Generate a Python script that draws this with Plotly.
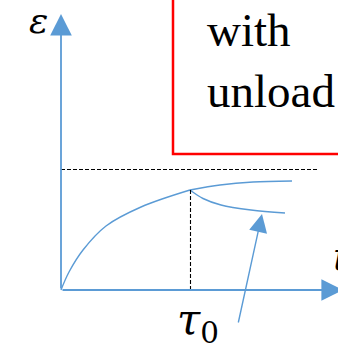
import plotly.graph_objects as go

# ---- data (pixel-like units, origin at axes origin) ----
load_t = [0, 8, 22, 45, 80, 129]
load_e = [0, 18, 40, 64, 83, 100]
creep_t = [129, 159, 192, 231]
creep_e = [100, 105, 108, 109]
unload_t = [129, 142, 160, 190, 224]
unload_e = [100, 91.5, 85, 80, 77]
tau0 = 129
eps_level = 120
eps_level_end = 256
box_text = "with<br>unload"
eps_label = "ε"
t_label = "t"
tau_label = "τ"
tau_sub = "0"

BLUE = "#5B9BD5"

fig = go.Figure()

fig.add_trace(go.Scatter(x=load_t, y=load_e, mode="lines",
                         line=dict(color=BLUE, width=1.4, shape="spline", smoothing=1.0),
                         hoverinfo="skip", showlegend=False))
fig.add_trace(go.Scatter(x=creep_t, y=creep_e, mode="lines",
                         line=dict(color=BLUE, width=1.4, shape="spline", smoothing=0.9),
                         hoverinfo="skip", showlegend=False))
fig.add_trace(go.Scatter(x=unload_t, y=unload_e, mode="lines",
                         line=dict(color=BLUE, width=1.4, shape="spline", smoothing=1.0),
                         hoverinfo="skip", showlegend=False))
# dashed lines
fig.add_trace(go.Scatter(x=[0, eps_level_end], y=[eps_level + 0.5, eps_level + 0.5], mode="lines",
                         line=dict(color="black", width=1.1, dash="4px,2px"),
                         hoverinfo="skip", showlegend=False))
fig.add_trace(go.Scatter(x=[tau0 + 0.5, tau0 + 0.5], y=[0, load_e[-1]], mode="lines",
                         line=dict(color="black", width=1.1, dash="4px,2px"),
                         hoverinfo="skip", showlegend=False))

ann = []
# axes arrows
ann.append(dict(x=0, y=276, ax=0, ay=0, xref="x", yref="y", axref="x", ayref="y",
                text="", showarrow=True, arrowhead=2, arrowsize=2.4, arrowwidth=1.8,
                arrowcolor=BLUE, standoff=0))
ann.append(dict(x=282, y=0, ax=0, ay=0, xref="x", yref="y", axref="x", ayref="y",
                text="", showarrow=True, arrowhead=2, arrowsize=2.4, arrowwidth=1.8,
                arrowcolor=BLUE, standoff=0))
# pointer arrow
ann.append(dict(x=201, y=76, ax=177, ay=-34, xref="x", yref="y", axref="x", ayref="y",
                text="", showarrow=True, arrowhead=2, arrowsize=2.6, arrowwidth=1.4,
                arrowcolor=BLUE, standoff=0))
# labels
ann.append(dict(x=-23, y=270, xref="x", yref="y", text=f"<i>{eps_label}</i>", showarrow=False,
                font=dict(family="DejaVu Serif", size=36, color="black")))
ann.append(dict(x=270, y=34, xref="x", yref="y", text=f"<i>{t_label}</i>", showarrow=False,
                xanchor="left", font=dict(family="DejaVu Serif", size=40, color="black")))
ann.append(dict(x=tau0 + 8, y=-32, xref="x", yref="y", text=f"<i>{tau_label}</i><sub>{tau_sub}</sub>",
                showarrow=False, font=dict(family="DejaVu Serif", size=42, color="black")))
ann.append(dict(x=144, y=230, xref="x", yref="y", text=box_text, showarrow=False,
                xanchor="left", yanchor="middle", align="left",
                font=dict(family="Liberation Serif", size=47, color="black")))

fig.update_layout(
    width=338, height=343, margin=dict(l=0, r=0, t=0, b=0),
    paper_bgcolor="white", plot_bgcolor="white",
    xaxis=dict(range=[-61, 277], visible=False, fixedrange=True),
    yaxis=dict(range=[-53, 290], visible=False, fixedrange=True),
    annotations=ann,
    shapes=[dict(type="rect", xref="x", yref="y", x0=112, x1=320, y0=136, y1=320,
                 line=dict(color="#FF0000", width=2.5), fillcolor="rgba(0,0,0,0)", layer="below")],
)

fig.write_html("out.html", config={"displayModeBar": False},
               post_script="document.body.style.margin='0';")
